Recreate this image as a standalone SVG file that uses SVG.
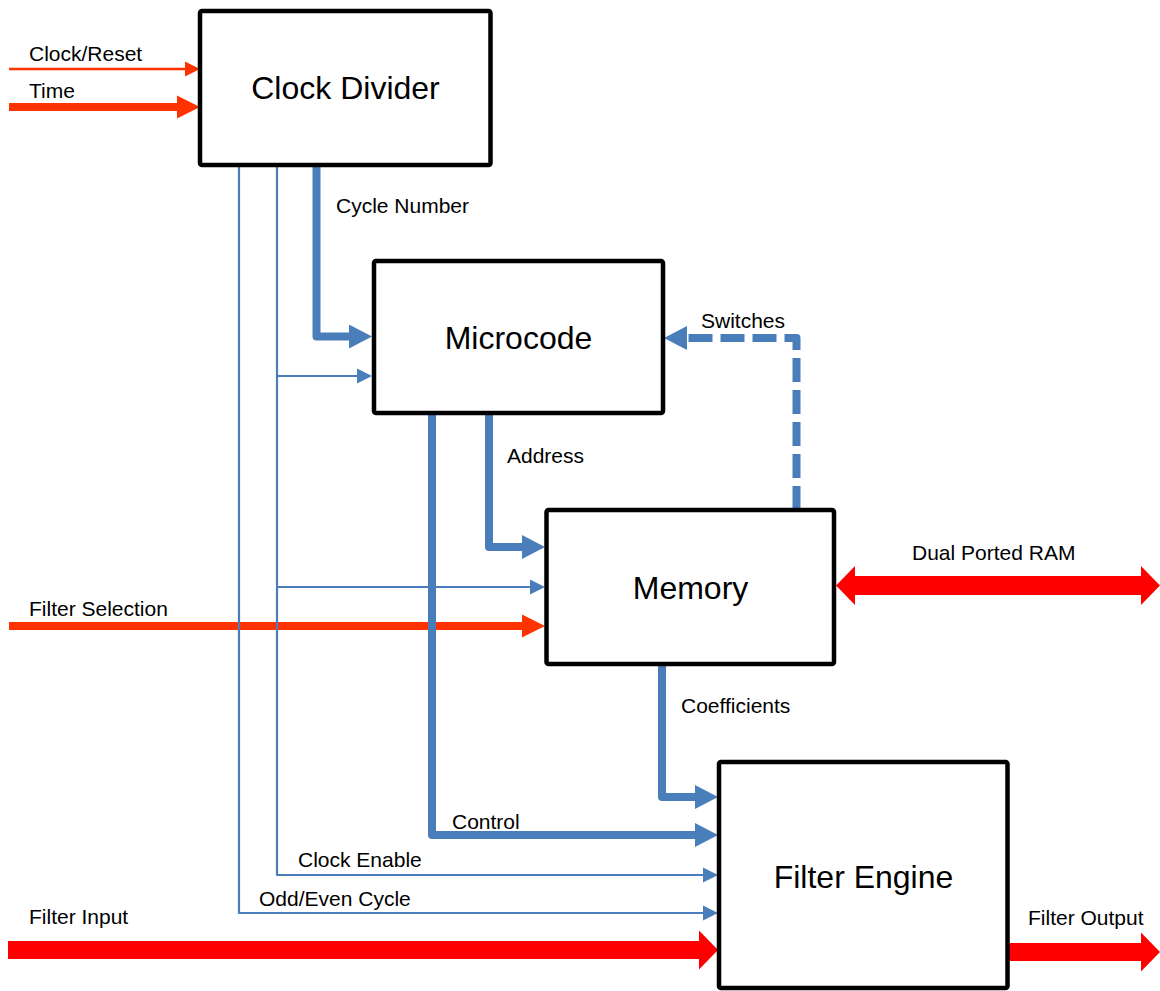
<svg xmlns="http://www.w3.org/2000/svg" width="1160" height="991" viewBox="0 0 1160 991">
<style>
text{font-family:"Liberation Sans",Arial,sans-serif;fill:#000}
.lbl{font-size:21px}
.ttl{font-size:32px;text-anchor:middle}
.box{fill:#fff;stroke:#000;stroke-width:4.5}
.wire{fill:none;stroke-linejoin:round}
.bT{stroke:#4A7EBB;stroke-width:8}
.bt{stroke:#4A7EBB;stroke-width:2.2}
.oT{stroke:#FF3300;stroke-width:8}
.ot{stroke:#FF3300;stroke-width:2.5}
.rT{stroke:#FF0000;stroke-width:19}
</style>
<defs>
<marker id="aB" markerUnits="userSpaceOnUse" markerWidth="24" markerHeight="24" viewBox="0 0 24 24" refX="1" refY="12" orient="auto"><path d="M0,0 L23,12 L0,24 z" fill="#4A7EBB"/></marker>
<marker id="aBs" markerUnits="userSpaceOnUse" markerWidth="16" markerHeight="16" viewBox="0 0 16 16" refX="1" refY="8" orient="auto"><path d="M0,0.5 L15,8 L0,15.5 z" fill="#4A7EBB"/></marker>
<marker id="aO" markerUnits="userSpaceOnUse" markerWidth="24" markerHeight="24" viewBox="0 0 24 24" refX="1" refY="12" orient="auto"><path d="M0,0.5 L23,12 L0,23.5 z" fill="#FF3300"/></marker>
<marker id="aOs" markerUnits="userSpaceOnUse" markerWidth="16" markerHeight="16" viewBox="0 0 16 16" refX="1" refY="8" orient="auto"><path d="M0,0.5 L15,8 L0,15.5 z" fill="#FF3300"/></marker>
<marker id="aR" markerUnits="userSpaceOnUse" markerWidth="20" markerHeight="40" viewBox="0 0 20 40" refX="1" refY="20" orient="auto-start-reverse"><path d="M0,0.5 L19,20 L0,39.5 z" fill="#FF0000"/></marker>
</defs>
<rect width="1160" height="991" fill="#fff"/>
<g id="connectors">
<path class="wire ot" d="M9,69 H186" marker-end="url(#aOs)"/>
<path class="wire oT" d="M9,107 H178" marker-end="url(#aO)"/>
<path class="wire oT" d="M9,626 H523" marker-end="url(#aO)"/>
<path class="wire bt" d="M239,165 V913 H704" marker-end="url(#aBs)"/>
<path class="wire bt" d="M277,165 V875 H704" marker-end="url(#aBs)"/>
<path class="wire bt" d="M277,376 H358" marker-end="url(#aBs)"/>
<path class="wire bt" d="M277,587 H531" marker-end="url(#aBs)"/>
<path class="wire bT" d="M316.5,165 V336.5 H350" marker-end="url(#aB)"/>
<path class="wire bT" d="M432,413 V835 H696" marker-end="url(#aB)"/>
<path class="wire bT" d="M489,413 V547 H523" marker-end="url(#aB)"/>
<path class="wire bT" d="M662,664 V797 H696" marker-end="url(#aB)"/>
<path class="wire bT" d="M796.5,510 V338 H686" stroke-dasharray="24 8" marker-end="url(#aB)"/>
<path class="wire rT" d="M854,585.5 H1142" marker-start="url(#aR)" marker-end="url(#aR)"/>
<path class="wire" stroke="#FF0000" stroke-width="18" d="M8,950 H700" marker-end="url(#aR)"/>
<path class="wire" stroke="#FF0000" stroke-width="18" d="M1006,952 H1142" marker-end="url(#aR)"/>
<text class="lbl" x="29" y="61">Clock/Reset</text>
<text class="lbl" x="29" y="98">Time</text>
<text class="lbl" x="336" y="213">Cycle Number</text>
<text class="lbl" x="701" y="328">Switches</text>
<text class="lbl" x="507" y="463">Address</text>
<text class="lbl" x="912" y="560">Dual Ported RAM</text>
<text class="lbl" x="29" y="616">Filter Selection</text>
<text class="lbl" x="681" y="713">Coefficients</text>
<text class="lbl" x="452" y="829">Control</text>
<text class="lbl" x="298" y="867">Clock Enable</text>
<text class="lbl" x="259" y="906">Odd/Even Cycle</text>
<text class="lbl" x="29" y="924">Filter Input</text>
<text class="lbl" x="1028" y="925">Filter Output</text>
</g>
<g id="clock-divider">
<rect class="box" x="200" y="11" width="290.5" height="154" rx="2"/>
<text class="ttl" x="345.5" y="99">Clock Divider</text>
</g>
<g id="microcode">
<rect class="box" x="374" y="261" width="289" height="152" rx="2"/>
<text class="ttl" x="518.5" y="349">Microcode</text>
</g>
<g id="memory">
<rect class="box" x="546.5" y="510" width="287.5" height="154" rx="2"/>
<text class="ttl" x="690.5" y="599">Memory</text>
</g>
<g id="filter-engine">
<rect class="box" x="719" y="762" width="288.5" height="226" rx="2"/>
<text class="ttl" x="863.5" y="888">Filter Engine</text>
</g>
</svg>
